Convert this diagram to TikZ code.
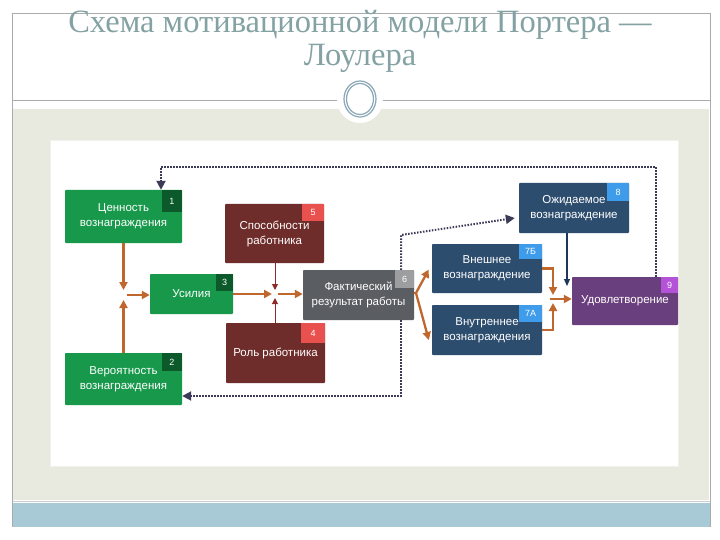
\documentclass[tikz,border=0pt]{standalone}
\usepackage{fontspec}
\setmainfont{Liberation Serif}
\newfontfamily\boxfont{Liberation Sans}
\usetikzlibrary{arrows.meta}
\definecolor{titlec}{HTML}{84A2A3}
\definecolor{framec}{HTML}{A9ABAE}
\definecolor{beige}{HTML}{E8E9DF}
\definecolor{barc}{HTML}{A7CAD6}
\definecolor{ringc}{HTML}{8AA7B6}
\definecolor{grn}{HTML}{17984B}
\definecolor{grnb}{HTML}{0C5A2B}
\definecolor{mar}{HTML}{6E2D2A}
\definecolor{marb}{HTML}{E9514F}
\definecolor{gry}{HTML}{5A5D62}
\definecolor{gryb}{HTML}{9C9EA0}
\definecolor{nav}{HTML}{2D4D6E}
\definecolor{navb}{HTML}{3E9CEA}
\definecolor{pur}{HTML}{6A3F7D}
\definecolor{purb}{HTML}{B452D8}
\definecolor{orng}{HTML}{BF672D}
\definecolor{redar}{HTML}{8E2A2A}
\definecolor{dotc}{HTML}{3B3B57}
\definecolor{navline}{HTML}{1E3756}
\tikzset{
  box/.style={inner sep=2pt, align=center, text=white, rounded corners=0.8pt,
    font=\boxfont\fontsize{11.5}{15}\selectfont},
  badge/.style={inner sep=0pt, anchor=north east, text=white,
    font=\boxfont\fontsize{9}{9}\selectfont},
  oarrow/.style={draw=orng, line width=2.3pt, -{Triangle[length=8pt,width=8pt]}},
  oline/.style={draw=orng, line width=2.3pt},
  rarrow/.style={draw=redar, line width=1pt, -{Triangle[length=6pt,width=6pt]}, color=redar},
  darrow/.style={draw=dotc, line width=2pt, dash pattern=on 1.5pt off 1.5pt,
    -{Triangle[length=9pt,width=9pt]}},
  narrow/.style={draw=navline, line width=1.2pt, -{Triangle[length=7pt,width=6pt]}},
}
\begin{document}
\begin{tikzpicture}[x=1pt,y=-1pt]
\useasboundingbox (0,0) rectangle (720,540);
\fill[white] (0,0) rectangle (720,540);
% slide frame
\fill[beige] (13,109) rectangle (709,500);
\fill[barc] (12,503) rectangle (710,527);
\draw[framec!60, line width=0.6pt] (12,501) -- (710,501);
\draw[framec, line width=0.7pt] (12,13) -- (710,13);
\draw[framec, line width=0.7pt] (12,13) -- (12,527);
\draw[framec, line width=0.7pt] (710,13) -- (710,527);
\draw[framec, line width=0.9pt] (12,100) -- (710,100);
\fill[white] (360,100) circle (23);
\draw[ringc, line width=1.2pt] (360,99) ellipse (16 and 18);
\draw[ringc, line width=1.2pt] (360,99) ellipse (13.5 and 15.5);
% title
\node[anchor=base, text=titlec, font=\fontsize{32.5}{34}\selectfont] (t1) at (360,33) {Схема мотивационной модели Портера —};
\node[anchor=base, text=titlec, font=\fontsize{32.5}{34}\selectfont] (t2) at (360,66) {Лоулера};
% white panel
\fill[white, draw=beige!60!white] (50,140) rectangle (678,466);
% boxes
\node[box, fill=grn, minimum width=117, minimum height=53] (b1) at (123.5,216.5) {Ценность\\вознаграждения};
\node[badge, fill=grnb, minimum width=20, minimum height=22] (n1) at (b1.north east) {1};
\node[box, fill=grn, minimum width=117, minimum height=52] (b2) at (123.5,379) {Вероятность\\вознаграждения};
\node[badge, fill=grnb, minimum width=20, minimum height=18] (n2) at (b2.north east) {2};
\node[box, fill=grn, minimum width=83, minimum height=40] (b3) at (191.5,294) {Усилия};
\node[badge, fill=grnb, minimum width=17, minimum height=17] (n3) at (b3.north east) {3};
\node[box, fill=mar, minimum width=99, minimum height=59] (b5) at (274.5,233.5) {Способности\\работника};
\node[badge, fill=marb, minimum width=22, minimum height=17] (n5) at (b5.north east) {5};
\node[box, fill=mar, minimum width=99, minimum height=60] (b4) at (275.5,353) {Роль работника};
\node[badge, fill=marb, minimum width=24, minimum height=20] (n4) at (b4.north east) {4};
\node[box, fill=gry, minimum width=111, minimum height=50] (b6) at (358.5,295) {Фактический\\результат работы};
\node[badge, fill=gryb, minimum width=19, minimum height=18] (n6) at (b6.north east) {6};
\node[box, fill=nav, minimum width=110, minimum height=49] (b7b) at (487,268.5) {Внешнее\\вознаграждение};
\node[badge, fill=navb, minimum width=23, minimum height=15] (n7b) at (b7b.north east) {7Б};
\node[box, fill=nav, minimum width=110, minimum height=50] (b7a) at (487,330) {Внутреннее\\вознаграждения};
\node[badge, fill=navb, minimum width=23, minimum height=17] (n7a) at (b7a.north east) {7А};
\node[box, fill=nav, minimum width=110, minimum height=50] (b8) at (574,208) {Ожидаемое\\вознаграждение};
\node[badge, fill=navb, minimum width=22, minimum height=18] (n8) at (b8.north east) {8};
\node[box, fill=pur, minimum width=106, minimum height=48] (b9) at (625,301) {Удовлетворение};
\node[badge, fill=purb, minimum width=17, minimum height=16] (n9) at (b9.north east) {9};
% junction points
\coordinate (J1) at (123.5,295);
\coordinate (J2) at (275,294);
\coordinate (F) at (416,293);
\coordinate (M) at (553,299);
% orange / red connectors
\draw[oarrow] (b1.south) -- ([yshift=5]J1);
\draw[oarrow] (b2.north) -- ([yshift=-5]J1);
\draw[oarrow] ([xshift=3]J1) -- (b3.west |- J1);
\draw[oarrow] (b3.east) -- ([xshift=-3]J2);
\draw[rarrow] (b5.south -| J2) -- ([yshift=4]J2);
\draw[rarrow] (b4.north -| J2) -- ([yshift=-4]J2);
\draw[oarrow] ([xshift=3]J2) -- (b6.west |- J2);
\draw[oline] (b6.east |- F) -- (F);
\draw[oarrow] (F) -- ([shift={(-3,1)}]b7b.west);
\draw[oarrow] (F) -- ([shift={(-3,10)}]b7a.west);
\draw[oarrow] (b7b.east) -| ([yshift=4]M);
\draw[oarrow] (b7a.east) -| ([yshift=-4]M);
\draw[oarrow] ([xshift=-3]M) -- (b9.west |- M);
% navy connector
\coordinate (N) at (567,286);
\draw[narrow] (b8.south -| N) -- (N);
% dotted feedback connectors
\draw[darrow] ([xshift=31]b9.north) -- (656,167) -- (161,167) -- (b1.north -| 161,0);
\draw[darrow] ([xshift=42.5]b6.south) -- (401,396) -- (b2.east |- 0,396);
\draw[darrow] ([xshift=42.5]b6.north) -- (401,235) -- ([shift={(-4,10)}]b8.west);
\end{tikzpicture}
\end{document}
